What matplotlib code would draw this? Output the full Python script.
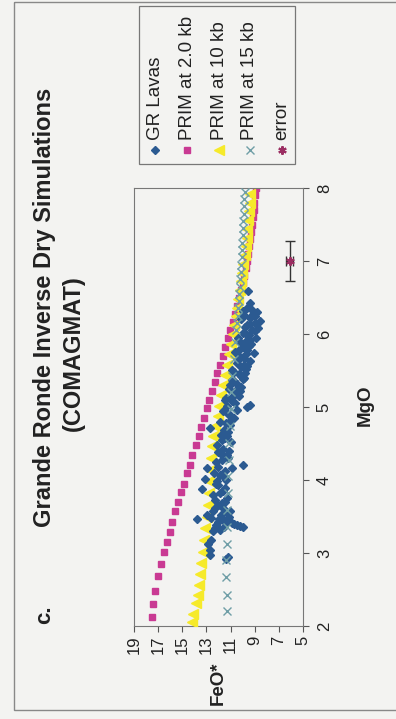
import matplotlib.pyplot as plt
from matplotlib.patches import Rectangle

# GR lavas (MgO, FeO*)
gr_mgo = [2.92, 2.95, 2.97, 3.04, 3.12, 3.18, 3.30, 3.32, 3.34, 3.35, 3.37, 3.38, 3.40, 3.41,
          3.43, 3.43, 3.45, 3.47, 3.50, 3.52, 3.52, 3.55, 3.57, 3.58, 3.61, 3.66, 3.70, 3.75,
          3.79, 3.82, 3.88, 3.89, 3.95, 3.98, 4.02, 4.05, 4.07, 4.10, 4.16, 4.16, 4.20, 4.24,
          4.27, 4.30, 4.34, 4.38, 4.42, 4.48, 4.52, 4.57, 4.62, 4.66, 4.71, 4.75, 4.80, 4.85,
          4.89, 4.94, 4.96, 5.00, 5.03, 5.02, 5.08, 5.10, 5.12, 5.15, 5.20, 5.25, 5.28, 5.30,
          5.32, 5.37, 5.40, 5.45, 5.48, 5.50, 5.52, 5.55, 5.60, 5.63, 5.67, 5.70, 5.74, 5.75,
          5.78, 5.82, 5.86, 5.90, 5.94, 5.95, 5.98, 6.02, 6.05, 6.08, 6.12, 6.15, 6.18, 6.20,
          6.22, 6.26, 6.30, 6.33, 6.36, 6.42, 6.59,
          3.36, 3.39, 3.46, 3.48, 3.62, 3.68, 3.72, 3.85, 3.93, 4.00, 4.12, 4.18, 4.35, 4.40,
          4.55, 4.60, 4.68, 4.78, 4.82, 4.91, 5.05, 5.14, 5.18, 5.22, 5.35, 5.42, 5.47, 5.58,
          5.65, 5.72, 5.80, 5.84, 5.88, 5.92, 6.00, 6.04, 6.10, 6.14, 6.24, 6.28, 6.32, 5.26,
          5.38, 5.56]
gr_feo = [11.42, 11.22, 12.72, 12.68, 12.85, 12.62, 12.45, 11.90, 12.30, 9.95, 10.20, 10.45, 10.70, 10.90,
          11.30, 12.05, 11.60, 13.80, 11.10, 12.98, 11.80, 11.30, 12.43, 11.05, 11.60, 12.02, 11.48, 11.32,
          12.43, 11.90, 13.35, 11.46, 12.20, 12.15, 13.10, 11.60, 11.87, 12.40, 12.95, 10.92, 9.94, 12.20,
          11.73, 11.20, 11.32, 12.00, 11.60, 12.15, 11.00, 11.46, 11.80, 11.20, 12.70, 11.05, 11.87, 10.70,
          11.05, 11.60, 10.50, 9.66, 9.39, 11.30, 10.90, 11.50, 11.40, 10.30, 10.70, 11.10, 10.10, 11.05,
          10.50, 10.90, 9.90, 10.30, 10.70, 10.90, 9.70, 10.10, 10.50, 9.40, 9.90, 10.30, 9.10, 10.60,
          9.60, 10.00, 9.30, 9.70, 8.90, 10.40, 9.50, 10.00, 9.20, 8.70, 9.60, 9.00, 8.60, 10.15,
          9.40, 9.85, 8.80, 9.20, 9.60, 9.39, 9.53,
          11.55, 12.20, 11.95, 12.60, 12.25, 11.75, 12.30, 11.65, 12.00, 11.35, 11.45, 12.05, 11.80, 11.10,
          11.70, 11.30, 11.55, 11.35, 10.95, 11.25, 10.60, 10.85, 10.45, 10.25, 10.70, 10.15, 9.80, 9.90,
          10.35, 9.75, 10.25, 9.45, 10.15, 9.35, 9.75, 8.95, 9.80, 9.35, 8.95, 9.15, 9.95, 10.40,
          10.00, 9.60]

# PRIM at 2.0 kb
p2_mgo = [2.13, 2.30, 2.48, 2.68, 2.85, 3.01, 3.15, 3.29, 3.43, 3.57, 3.70, 3.83, 3.95, 4.09,
          4.21, 4.34, 4.48, 4.60, 4.72, 4.85, 4.98, 5.10, 5.22, 5.34, 5.46, 5.58, 5.70, 5.82,
          5.94, 6.06, 6.17, 6.28, 6.39, 6.50, 6.60, 6.70, 6.80, 6.90, 7.00, 7.10, 7.20, 7.30,
          7.40, 7.50, 7.60, 7.70, 7.80, 7.90, 8.00]
p2_feo = [17.53, 17.40, 17.26, 16.99, 16.79, 16.51, 16.27, 16.02, 15.82, 15.60, 15.35, 15.13, 14.88, 14.63,
          14.38, 14.17, 13.90, 13.64, 13.42, 13.20, 12.98, 12.76, 12.54, 12.32, 12.10, 11.88, 11.66, 11.45,
          11.23, 11.02, 10.82, 10.63, 10.45, 10.28, 10.13, 9.99, 9.86, 9.74, 9.64, 9.55, 9.47, 9.39,
          9.32, 9.25, 9.18, 9.10, 9.02, 8.94, 8.86]

# PRIM at 10 kb
p10_mgo = [2.06, 2.17, 2.31, 2.42, 2.56, 2.71, 2.86, 3.02, 3.18, 3.34, 3.50, 3.66, 3.82, 3.98,
           4.14, 4.30, 4.46, 4.60, 4.74, 4.88, 5.02, 5.16, 5.30, 5.44, 5.58, 5.72, 5.86, 6.00,
           6.12, 6.24, 6.36, 6.48, 6.60, 6.72, 6.84, 6.96, 7.08, 7.20, 7.32, 7.44, 7.56, 7.68,
           7.80, 7.92]
p10_feo = [14.22, 14.08, 13.85, 13.72, 13.61, 13.52, 13.42, 13.30, 13.18, 13.08, 12.98, 12.88, 12.80, 12.76,
           12.72, 12.66, 12.56, 12.42, 12.25, 12.08, 11.92, 11.76, 11.60, 11.44, 11.28, 11.12, 10.97, 10.83,
           10.70, 10.58, 10.46, 10.35, 10.24, 10.13, 10.03, 9.93, 9.84, 9.76, 9.68, 9.61, 9.54, 9.48,
           9.42, 9.37]

# PRIM at 15 kb
p15_mgo = [2.20, 2.43, 2.67, 2.90, 3.13, 3.36, 3.59, 3.82, 4.05, 4.28, 4.51, 4.74, 4.97, 5.20,
           5.43, 5.66, 5.89, 6.05, 6.15, 6.25, 6.35, 6.45, 6.55, 6.65, 6.75, 6.85, 6.95, 7.05,
           7.15, 7.25, 7.35, 7.45, 7.55, 7.65, 7.75, 7.85, 7.95]
p15_feo = [11.27, 11.30, 11.35, 11.35, 11.32, 11.30, 11.28, 11.25, 11.20, 11.15, 11.10, 11.05, 11.00, 10.95,
           10.88, 10.75, 10.60, 10.52, 10.47, 10.42, 10.38, 10.34, 10.30, 10.25, 10.20, 10.16, 10.12, 10.08,
           10.05, 10.02, 9.99, 9.96, 9.93, 9.90, 9.87, 9.85, 9.82]

# analytical error
err_mgo = [7.0]
err_feo = [6.1]
err_mgo_sd = [0.27]
err_feo_sd = [0.3]

feo_ticks = [19, 17, 15, 13, 11, 9, 7, 5]
mgo_ticks = [2, 3, 4, 5, 6, 7, 8]

c_gr = "#2b5a91"
c_p2 = "#c93a93"
c_p10 = "#f6ea2a"
c_p15 = "#6f9ea6"
c_err = "#9b2e62"
bg = "#f3f3f1"

plt.rcParams["font.family"] = ["Liberation Sans", "DejaVu Sans"]

W, H = 396, 719
fig = plt.figure(figsize=(W / 100, H / 100), dpi=100, facecolor=bg)

# page is turned sideways: FeO* runs right-to-left along the bottom, MgO runs up the right side
x0, x1, y0, y1 = 134, 303, 188, 626
ax = fig.add_axes([x0 / W, 1 - y1 / H, (x1 - x0) / W, (y1 - y0) / H])
ax.set_facecolor(bg)

ax.plot(p2_feo, p2_mgo, ls="none", marker="s", ms=4.7, color=c_p2, mec=c_p2, zorder=2)
ax.plot(p10_feo, p10_mgo, ls="none", marker="<", ms=6.5, color=c_p10, mec=c_p10, zorder=3)
ax.plot(gr_feo, gr_mgo, ls="none", marker="D", ms=4.4, color=c_gr, mec=c_gr, zorder=4)
ax.plot(p15_feo, p15_mgo, ls="none", marker="x", ms=6, mew=1.0, color=c_p15, zorder=5)
ax.errorbar(err_feo, err_mgo, xerr=err_feo_sd, yerr=err_mgo_sd, fmt="none",
            ecolor="#333333", elinewidth=1.0, capsize=3.5, capthick=1.0, zorder=6)
ax.plot(err_feo, err_mgo, ls="none", marker=(6, 2, 0), ms=6, mew=1.5, color=c_err, zorder=7)

ax.set_xlim(19, 5)
ax.set_ylim(2, 8)
ax.set_xticks(feo_ticks)
ax.set_xticklabels([str(t) for t in feo_ticks], rotation=90)
ax.yaxis.tick_right()
ax.set_yticks(mgo_ticks)
ax.set_yticklabels([str(t) for t in mgo_ticks], rotation=90, va="center")
ax.tick_params(axis="both", direction="out", length=4, width=0.8, color="#555555",
               labelsize=12, labelcolor="#222222")
ax.tick_params(axis="x", pad=3)
ax.tick_params(axis="y", pad=6)
for s in ax.spines.values():
    s.set_color("#777777")
    s.set_linewidth(0.8)

# overlay in pixel units for titles, frame and key
lay = fig.add_axes([0, 0, 1, 1], zorder=-1)
lay.set_xlim(0, W)
lay.set_ylim(H, 0)
lay.axis("off")
lay.add_patch(Rectangle((14, 2), 420, 708, fill=False, ec="#888888", lw=1.0))

lay.text(45, 307, "Grande Ronde Inverse Dry Simulations", rotation=90, ha="center", va="center",
         fontsize=17, fontweight="bold", color="#222222")
lay.text(73, 353, "(COMAGMAT)", rotation=90, ha="center", va="center",
         fontsize=17, fontweight="bold", color="#222222")
lay.text(45, 615, "c.", rotation=90, ha="center", va="center",
         fontsize=16, fontweight="bold", color="#222222")
lay.text(365, 405, "MgO", rotation=90, ha="center", va="center",
         fontsize=13.5, fontweight="bold", color="#222222")
lay.text(218, 683, "FeO*", rotation=90, ha="center", va="center",
         fontsize=13.5, fontweight="bold", color="#222222")

key = fig.add_axes([0, 0, 1, 1], zorder=3)
key.set_xlim(0, W)
key.set_ylim(H, 0)
key.axis("off")
key.add_patch(Rectangle((139, 6), 156, 158, fill=True, fc=bg, ec="#777777", lw=0.9))
labels = ["GR Lavas", "PRIM at 2.0 kb", "PRIM at 10 kb", "PRIM at 15 kb", "error"]
styles = [dict(marker="D", ms=4.4, color=c_gr), dict(marker="s", ms=4.7, color=c_p2),
          dict(marker="<", ms=6.5, color=c_p10), dict(marker="x", ms=6, mew=1.0, color=c_p15),
          dict(marker=(6, 2, 0), ms=6, mew=1.5, color=c_err)]
rows = [155, 187, 219, 250, 282]
for r, lab, st in zip(rows, labels, styles):
    key.plot([r], [150], ls="none", **st)
    key.text(r, 140, lab, rotation=90, ha="center", va="bottom", fontsize=13.5, color="#222222")

fig.savefig("out.png", dpi=100, facecolor=bg)
